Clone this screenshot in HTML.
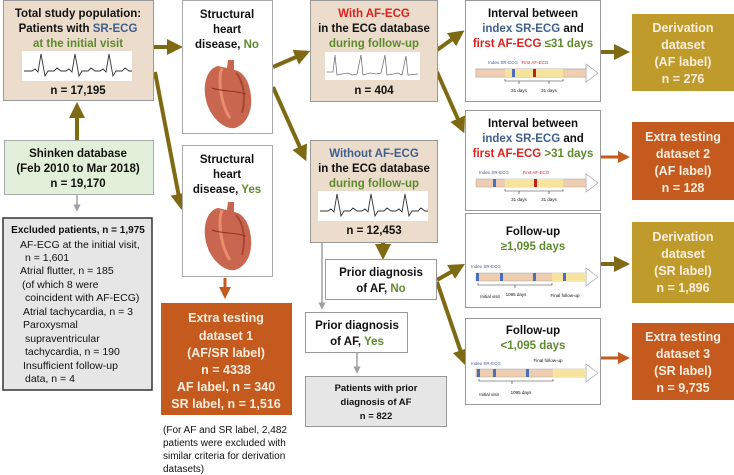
<!DOCTYPE html>
<html><head><meta charset="utf-8"><style>
html,body{margin:0;padding:0;background:#fff}
svg{display:block}
text{font-family:"Liberation Sans",sans-serif;font-weight:bold;font-size:11.5px;text-anchor:middle;fill:#111}
.n{font-weight:normal}
.w{fill:#fbeee0}
.b{fill:#3f5f8f}.r{fill:#e0201b}.g{fill:#5e8a2e}
.s{font-size:4.5px;font-weight:normal}
</style></head><body>
<svg width="734" height="475" viewBox="0 0 734 475">
<defs>
<marker id="ao" markerWidth="4" markerHeight="4" refX="2" refY="2" orient="auto" markerUnits="strokeWidth"><path d="M0,0 L4,2 L0,4z" fill="#7f6a14"/></marker>
<marker id="ar" markerWidth="4" markerHeight="4" refX="2" refY="2" orient="auto" markerUnits="strokeWidth"><path d="M0,0 L4,2 L0,4z" fill="#c55a1e"/></marker>
<marker id="ag" markerWidth="5" markerHeight="5" refX="2.5" refY="2.5" orient="auto" markerUnits="strokeWidth"><path d="M0,0 L5,2.5 L0,5z" fill="#a0a0a0"/></marker>
<g id="ecg"><rect x="0" y="0" width="110" height="30" fill="#fff"/><polyline fill="none" stroke="#333" stroke-width="0.9" points="2,20 10,20 13,18 16,21 19,3 23,25 26,20 32,20 35,17 39,20 44,20 47,18 50,21 53,3 57,25 60,20 66,20 69,17 73,20 78,20 81,18 84,21 87,3 91,25 94,20 100,20 103,17 107,20 110,20"/></g>
<g id="heart"><path d="M18,8 C8,10 2,25 6,42 C10,60 25,72 35,70 C48,66 54,50 50,32 C48,20 40,12 34,12 L34,2 L28,2 L27,10 Z" fill="#c9664f"/><path d="M22,10 C18,20 20,45 30,60" stroke="#e98c6e" stroke-width="3" fill="none"/><path d="M36,15 C44,24 46,40 42,55" stroke="#a94535" stroke-width="2" fill="none"/><path d="M12,30 C22,34 34,32 46,36" stroke="#8e3424" stroke-width="1" fill="none"/></g>
</defs>

<!-- Arrows -->
<g stroke="#7f6a14" stroke-width="4" fill="none">
<line x1="77" y1="140" x2="77" y2="110" marker-end="url(#ao)"/>
<line x1="154" y1="47" x2="175" y2="47" marker-end="url(#ao)"/>
<line x1="155" y1="72" x2="180" y2="202" marker-end="url(#ao)"/>
<line x1="273" y1="67" x2="303" y2="54" marker-end="url(#ao)"/>
<line x1="273" y1="87" x2="303" y2="154" marker-end="url(#ao)"/>
<line x1="437" y1="50" x2="458" y2="35" marker-end="url(#ao)"/>
<line x1="437" y1="72" x2="461" y2="126" marker-end="url(#ao)"/>
<line x1="601" y1="52" x2="622" y2="52" marker-end="url(#ao)"/>
<line x1="601" y1="264" x2="622" y2="264" marker-end="url(#ao)"/>
<line x1="383" y1="243" x2="383" y2="252" marker-end="url(#ao)"/>
<line x1="437" y1="280" x2="458" y2="268" marker-end="url(#ao)"/>
<line x1="437" y1="282" x2="463" y2="358" marker-end="url(#ao)"/>
</g>
<g stroke="#c55a1e" stroke-width="3" fill="none">
<line x1="601" y1="157" x2="624" y2="157" marker-end="url(#ar)"/>
<line x1="601" y1="358" x2="624" y2="358" marker-end="url(#ar)"/>
<line x1="225" y1="278" x2="225" y2="293" marker-end="url(#ar)"/>
</g>
<g stroke="#a0a0a0" stroke-width="1.5" fill="none">
<line x1="77" y1="195" x2="77" y2="208" marker-end="url(#ag)"/>
<line x1="322" y1="243" x2="322" y2="306" marker-end="url(#ag)"/>
<line x1="357" y1="353" x2="357" y2="370" marker-end="url(#ag)"/>
</g>

<!-- Total study -->
<rect x="3.5" y="0.5" width="150" height="100" fill="#ecdccb" stroke="#999"/>
<text x="78" y="17">Total study population:</text>
<text x="78" y="32">Patients with <tspan class="b">SR-ECG</tspan></text>
<text x="78" y="47" class="g">at the initial visit</text>
<use href="#ecg" x="22" y="51"/>
<text x="78" y="94">n = 17,195</text>

<!-- Shinken -->
<rect x="4.5" y="140.5" width="149" height="54" fill="#e2f0d9" stroke="#aaa"/>
<text x="78" y="157">Shinken database</text>
<text x="78" y="172">(Feb 2010 to Mar 2018)</text>
<text x="78" y="187">n = 19,170</text>

<!-- Excluded -->
<rect x="3" y="218" width="149" height="172" fill="#e6e6e6" stroke="#333" stroke-width="1.5"/>
<text x="78" y="233" style="font-size:10px">Excluded patients, n = 1,975</text>
<g class="n" style="font-size:10.5px">
<text x="20" y="248" class="n" style="text-anchor:start;font-size:10.5px">AF-ECG at the initial visit,</text>
<text x="25" y="261" class="n" style="text-anchor:start;font-size:10.5px">n = 1,601</text>
<text x="20" y="274" class="n" style="text-anchor:start;font-size:10.5px">Atrial flutter, n = 185</text>
<text x="22" y="288" class="n" style="text-anchor:start;font-size:10.5px">(of which 8 were</text>
<text x="25" y="301" class="n" style="text-anchor:start;font-size:10.5px">coincident with AF-ECG)</text>
<text x="23" y="315" class="n" style="text-anchor:start;font-size:10.5px">Atrial tachycardia, n = 3</text>
<text x="23" y="328" class="n" style="text-anchor:start;font-size:10.5px">Paroxysmal</text>
<text x="25" y="342" class="n" style="text-anchor:start;font-size:10.5px">supraventricular</text>
<text x="25" y="355" class="n" style="text-anchor:start;font-size:10.5px">tachycardia, n = 190</text>
<text x="23" y="369" class="n" style="text-anchor:start;font-size:10.5px">Insufficient follow-up</text>
<text x="25" y="382" class="n" style="text-anchor:start;font-size:10.5px">data, n = 4</text>
</g>

<!-- Structural No/Yes -->
<rect x="182.5" y="0.5" width="90" height="133" fill="#fff" stroke="#aaa"/>
<text x="227" y="18">Structural</text><text x="227" y="33">heart</text><text x="227" y="48">disease, <tspan class="g">No</tspan></text>
<use href="#heart" x="200" y="58"/>
<rect x="182.5" y="145.5" width="90" height="131" fill="#fff" stroke="#aaa"/>
<text x="227" y="163">Structural</text><text x="227" y="178">heart</text><text x="227" y="193">disease, <tspan class="g">Yes</tspan></text>
<use href="#heart" x="200" y="200"/>

<!-- Extra 1 -->
<rect x="161" y="303" width="131" height="112" fill="#c55a1e"/>
<text x="226" y="322" class="w" style="font-size:12.5px">Extra testing</text>
<text x="226" y="340" class="w" style="font-size:12.5px">dataset 1</text>
<text x="226" y="357" class="w" style="font-size:12.5px">(AF/SR label)</text>
<text x="226" y="374" class="w" style="font-size:12.5px">n = 4338</text>
<text x="226" y="391" class="w" style="font-size:12.5px">AF label, n = 340</text>
<text x="226" y="408" class="w" style="font-size:12.5px">SR label, n = 1,516</text>
<g style="font-size:10px">
<text x="163" y="433" class="n" style="text-anchor:start;font-size:10px">(For AF and SR label, 2,482</text>
<text x="163" y="446" class="n" style="text-anchor:start;font-size:10px">patients were excluded with</text>
<text x="163" y="459" class="n" style="text-anchor:start;font-size:10px">similar criteria for derivation</text>
<text x="163" y="472" class="n" style="text-anchor:start;font-size:10px">datasets)</text>
</g>

<!-- With AF -->
<rect x="310.5" y="0.5" width="127" height="101" fill="#ecdccb" stroke="#999"/>
<text x="374" y="17" class="r">With AF-ECG</text>
<text x="374" y="32">in the ECG database</text>
<text x="374" y="47" class="g">during follow-up</text>
<rect x="325" y="52" width="95" height="28" fill="#fff"/>
<polyline fill="none" stroke="#777" stroke-width="0.8" points="327,72 333,72 335,55 337,75 342,74 348,73 352,75 357,74 361,55 363,75 370,73 376,74 381,73 385,55 387,75 393,74 398,73 402,75 406,56 408,75 418,74"/>
<text x="374" y="94">n = 404</text>

<!-- Without AF -->
<rect x="310.5" y="140.5" width="127" height="102" fill="#ecdccb" stroke="#999"/>
<text x="374" y="157" class="b">Without AF-ECG</text>
<text x="374" y="172">in the ECG database</text>
<text x="374" y="187" class="g">during follow-up</text>
<use href="#ecg" x="318" y="191" transform="translate(0,0)"/>
<text x="374" y="234">n = 12,453</text>

<!-- Prior No / Yes -->
<rect x="325.5" y="259.5" width="111" height="40" fill="#fff" stroke="#999"/>
<text x="381" y="276">Prior  diagnosis</text>
<text x="381" y="292">of AF, <tspan class="g">No</tspan></text>
<rect x="305.5" y="312.5" width="102" height="40" fill="#fff" stroke="#999"/>
<text x="357" y="329">Prior  diagnosis</text>
<text x="357" y="345">of AF, <tspan class="g">Yes</tspan></text>
<rect x="305.5" y="376.5" width="141" height="50" fill="#e6e6e6" stroke="#999"/>
<text x="376" y="391" style="font-size:9.5px">Patients with prior</text>
<text x="376" y="405" style="font-size:9.5px">diagnosis of AF</text>
<text x="376" y="419" style="font-size:9.5px">n = 822</text>

<!-- Interval 1 -->
<rect x="465.5" y="0.5" width="135" height="101" fill="#fff" stroke="#999"/>
<text x="533" y="17">Interval between</text>
<text x="533" y="32"><tspan class="b">index SR-ECG</tspan> and</text>
<text x="533" y="47"><tspan class="r">first AF-ECG</tspan> <tspan class="g">≤31 days</tspan></text>
<path d="M476,69 H586 V65 L590,73 L586,81 V77 H476 Z" fill="#efcdb0" stroke="#999" stroke-width="0.6"/>
<path d="M586,65 L590,73 L586,81 Z M586,69 H596" fill="#eee"/>
<path d="M586,64 L598,73 L586,82 Z" fill="#fff" stroke="#999" stroke-width="0.6"/>
<rect x="476" y="69" width="110" height="8" fill="#efcdb0" stroke="#999" stroke-width="0.4"/>
<rect x="505" y="69" width="58" height="8" fill="#f6e39c"/>
<rect x="512" y="69" width="3" height="8" fill="#4a6fbf"/><rect x="533" y="69" width="3" height="8" fill="#c0201b"/>
<path d="M505,79 v2 h58 v-2 M519,81 v3 M549,81 v3" stroke="#333" stroke-width="0.6" fill="none"/>
<text x="503" y="64" class="s b">Index SR-ECG</text><text x="535" y="64" class="s r">First AF-ECG</text>
<text x="519" y="92" class="s">31 days</text><text x="549" y="92" class="s">31 days</text>

<!-- Interval 2 -->
<rect x="465.5" y="110.5" width="135" height="100" fill="#fff" stroke="#999"/>
<text x="533" y="127">Interval between</text>
<text x="533" y="142"><tspan class="b">index SR-ECG</tspan> and</text>
<text x="533" y="157"><tspan class="r">first AF-ECG</tspan> <tspan class="g">&gt;31 days</tspan></text>
<path d="M586,174 L598,183 L586,192 Z" fill="#fff" stroke="#999" stroke-width="0.6"/>
<rect x="476" y="179" width="110" height="8" fill="#efcdb0" stroke="#999" stroke-width="0.4"/>
<rect x="505" y="179" width="58" height="8" fill="#f6e39c"/>
<rect x="493" y="179" width="3" height="8" fill="#4a6fbf"/><rect x="534" y="179" width="3" height="8" fill="#c0201b"/>
<path d="M505,189 v2 h58 v-2 M519,191 v3 M549,191 v3" stroke="#333" stroke-width="0.6" fill="none"/>
<text x="494" y="174" class="s b">Index SR-ECG</text><text x="536" y="174" class="s r">First AF-ECG</text>
<text x="519" y="201" class="s">31 days</text><text x="549" y="201" class="s">31 days</text>

<!-- Follow-up 1 -->
<rect x="465.5" y="213.5" width="135" height="94" fill="#fff" stroke="#999"/>
<text x="533" y="235">Follow-up</text>
<text x="533" y="250" class="g">≥1,095 days</text>
<path d="M586,268 L598,277 L586,286 Z" fill="#fff" stroke="#999" stroke-width="0.6"/>
<rect x="476" y="273" width="110" height="8" fill="#efcdb0" stroke="#999" stroke-width="0.4"/>
<rect x="552" y="273" width="34" height="8" fill="#f6e39c"/>
<rect x="476" y="273" width="3" height="8" fill="#4a6fbf"/><rect x="500" y="273" width="3" height="8" fill="#4a6fbf"/><rect x="533" y="273" width="3" height="8" fill="#4a6fbf"/><rect x="563" y="273" width="3" height="8" fill="#4a6fbf"/>
<path d="M478,283 v2 h74 v-2 M515,285 v3" stroke="#333" stroke-width="0.6" fill="none"/>
<text x="486" y="268" class="s b">Index SR-ECG</text>
<text x="490" y="298" class="s">Initial visit</text><text x="516" y="296" class="s">1095 days</text><text x="565" y="297" class="s">Final follow-up</text>

<!-- Follow-up 2 -->
<rect x="465.5" y="318.5" width="135" height="86" fill="#fff" stroke="#999"/>
<text x="533" y="334">Follow-up</text>
<text x="533" y="349" class="g">&lt;1,095 days</text>
<path d="M586,364 L598,373 L586,382 Z" fill="#fff" stroke="#999" stroke-width="0.6"/>
<rect x="476" y="369" width="110" height="8" fill="#efcdb0" stroke="#999" stroke-width="0.4"/>
<rect x="553" y="369" width="33" height="8" fill="#f6e39c"/>
<rect x="477" y="369" width="3" height="8" fill="#4a6fbf"/><rect x="493" y="369" width="3" height="8" fill="#4a6fbf"/><rect x="526" y="369" width="3" height="8" fill="#4a6fbf"/>
<path d="M479,379 v2 h74 v-2 M512,381 v3" stroke="#333" stroke-width="0.6" fill="none"/>
<text x="486" y="365" class="s b">Index SR-ECG</text><text x="548" y="362" class="s">Final follow-up</text>
<text x="489" y="396" class="s">Initial visit</text><text x="521" y="394" class="s">1095 days</text>

<!-- Outcome boxes -->
<rect x="632" y="14" width="102" height="77" fill="#bf9b2b"/>
<text x="683" y="32" class="w" style="font-size:12.5px">Derivation</text>
<text x="683" y="49" class="w" style="font-size:12.5px">dataset</text>
<text x="683" y="66" class="w" style="font-size:12.5px">(AF label)</text>
<text x="683" y="83" class="w" style="font-size:12.5px">n = 276</text>
<rect x="632" y="122" width="102" height="78" fill="#c55a1e"/>
<text x="683" y="141" class="w" style="font-size:12.5px">Extra testing</text>
<text x="683" y="158" class="w" style="font-size:12.5px">dataset 2</text>
<text x="683" y="175" class="w" style="font-size:12.5px">(AF label)</text>
<text x="683" y="192" class="w" style="font-size:12.5px">n = 128</text>
<rect x="632" y="222" width="102" height="81" fill="#bf9b2b"/>
<text x="683" y="241" class="w" style="font-size:12.5px">Derivation</text>
<text x="683" y="258" class="w" style="font-size:12.5px">dataset</text>
<text x="683" y="275" class="w" style="font-size:12.5px">(SR label)</text>
<text x="683" y="292" class="w" style="font-size:12.5px">n = 1,896</text>
<rect x="632" y="323" width="102" height="77" fill="#c55a1e"/>
<text x="683" y="341" class="w" style="font-size:12.5px">Extra testing</text>
<text x="683" y="358" class="w" style="font-size:12.5px">dataset 3</text>
<text x="683" y="375" class="w" style="font-size:12.5px">(SR label)</text>
<text x="683" y="392" class="w" style="font-size:12.5px">n = 9,735</text>
</svg>
</body></html>
